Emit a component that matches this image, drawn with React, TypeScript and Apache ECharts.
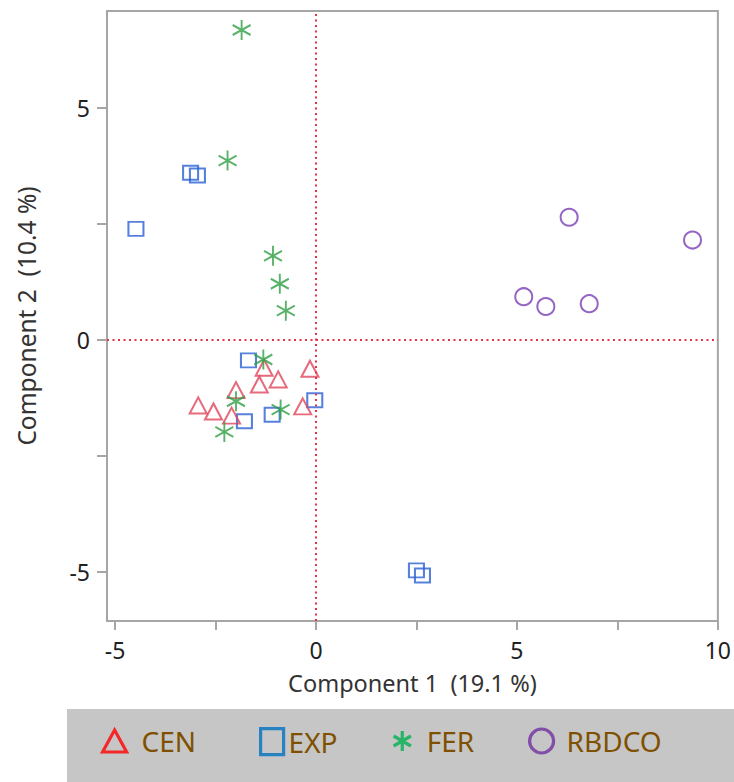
import React, { useEffect, useRef } from "react";
import * as echarts from "echarts";

const seriesNames = ["CEN", "EXP", "FER", "RBDCO"];

const cenPoints = [
  [-1.29, -0.6], [-0.15, -0.62], [-0.94, -0.85], [-1.41, -0.96], [-1.99, -1.08],
  [-2.93, -1.41], [-2.55, -1.54], [-2.1, -1.63], [-0.33, -1.43],
];
const expPoints = [
  [-3.12, 3.6], [-2.95, 3.54], [-4.48, 2.39], [-1.68, -0.44], [-1.78, -1.75],
  [-1.09, -1.61], [-0.03, -1.3], [2.5, -4.96], [2.65, -5.07],
];
const ferPoints = [
  [-1.85, 6.67], [-2.2, 3.86], [-1.07, 1.81], [-0.9, 1.21], [-0.75, 0.63],
  [-1.31, -0.42], [-1.99, -1.32], [-0.88, -1.5], [-2.28, -1.98],
];
const rbdcoPoints = [
  [6.3, 2.64], [9.37, 2.15], [5.17, 0.93], [5.72, 0.72], [6.8, 0.78],
];

const xTickValues = [-5, -2.5, 0, 2.5, 5, 7.5, 10];
const xLabelValues = [-5, 0, 5, 10];
const yTickValues = [-5, -2.5, 0, 2.5, 5];
const yLabelValues = [-5, 0, 5];

const xTitle = "Component 1  (19.1 %)";
const yTitle = "Component 2  (10.4 %)";

const ASTERISK = "path://M10,0L10,20M1.34,5L18.66,15M1.34,15L18.66,5";
const ELLIPSE = "path://M10,0A10,10,0,1,1,10,20A10,10,0,1,1,10,0Z";

const FONT = "'Noto Sans', 'Open Sans', sans-serif";
const LEGEND_TEXT = "#7f5000";
const AXIS_GREY = "#a6a6a6";

export default function App() {
  const ref = useRef<HTMLDivElement>(null);

  useEffect(() => {
    if (!ref.current) return;
    const chart = echarts.init(ref.current, undefined, { renderer: "svg" });

    const hollow = (c: string, w = 2) => ({
      color: "rgba(0,0,0,0)",
      borderColor: c,
      borderWidth: w,
    });

    const legendItem = (
      name: string,
      left: number,
      w: number,
      h: number,
      icon: string,
      color: string,
      padLeft: number
    ) => ({
      show: true,
      left,
      top: 727,
      padding: 0,
      itemWidth: w,
      itemHeight: h,
      selectedMode: false,
      textStyle: {
        fontSize: 28,
        fontFamily: FONT,
        color: LEGEND_TEXT,
        padding: [0, 0, 0, padLeft],
      },
      data: [{ name, icon, itemStyle: hollow(color, 3.2) }],
    });

    chart.setOption({
      animation: false,
      backgroundColor: "#ffffff",
      grid: {
        left: 107,
        top: 11,
        width: 612,
        height: 610,
        show: true,
        borderColor: AXIS_GREY,
        borderWidth: 2,
        backgroundColor: "transparent",
      },
      graphic: [
        {
          type: "rect",
          z: -10,
          shape: { x: 67, y: 709, width: 667, height: 73 },
          style: { fill: "#c6c6c6" },
        },
      ],
      legend: [
        legendItem("CEN", 101, 24, 22, "triangle", "#ff0000", 10),
        legendItem("EXP", 259, 23, 26, "rect", "#0070c0", 0),
        legendItem("FER", 392, 21, 20, ASTERISK, "#00b050", 9),
        legendItem("RBDCO", 528, 24, 26, ELLIPSE, "#7030a0", 8),
      ],
      xAxis: {
        type: "value",
        min: -5.2,
        max: 10,
        name: xTitle,
        nameLocation: "middle",
        nameGap: 50,
        nameTextStyle: { fontSize: 23.5, fontFamily: FONT, color: "#333" },
        axisLine: { show: true, onZero: false, lineStyle: { color: AXIS_GREY, width: 2 } },
        axisTick: {
          show: true,
          length: 9,
          customValues: xTickValues,
          lineStyle: { color: AXIS_GREY, width: 2 },
        },
        axisLabel: {
          customValues: xLabelValues,
          margin: 17,
          fontSize: 23,
          fontFamily: FONT,
          color: "#222",
          showMinLabel: true,
          showMaxLabel: true,
        },
        splitLine: { show: false },
      },
      yAxis: {
        type: "value",
        min: -6.05,
        max: 7.08,
        name: yTitle,
        nameLocation: "middle",
        nameGap: 68,
        nameTextStyle: { fontSize: 24.5, fontFamily: FONT, color: "#333" },
        axisLine: { show: true, onZero: false, lineStyle: { color: AXIS_GREY, width: 2 } },
        axisTick: {
          show: true,
          length: 10,
          customValues: yTickValues,
          lineStyle: { color: AXIS_GREY, width: 2 },
        },
        axisLabel: {
          customValues: yLabelValues,
          margin: 17,
          fontSize: 23,
          fontFamily: FONT,
          color: "#222",
        },
        splitLine: { show: false },
      },
      series: [
        {
          name: seriesNames[0],
          type: "scatter",
          symbol: "triangle",
          symbolSize: [17, 16],
          itemStyle: hollow("#e0455a"),
          data: cenPoints,
          markLine: {
            silent: true,
            symbol: "none",
            label: { show: false },
            lineStyle: { color: "#e3334a", type: [2, 3.5], width: 2 },
            data: [{ xAxis: 0 }, { yAxis: 0 }],
          },
          z: 3,
        },
        {
          name: seriesNames[1],
          type: "scatter",
          symbol: "rect",
          symbolSize: [15, 14],
          itemStyle: hollow("#2a62d4"),
          data: expPoints,
          z: 2,
        },
        {
          name: seriesNames[2],
          type: "scatter",
          symbol: ASTERISK,
          symbolSize: [18, 20],
          itemStyle: hollow("#2ea043"),
          data: ferPoints,
          z: 4,
        },
        {
          name: seriesNames[3],
          type: "scatter",
          symbol: "circle",
          symbolSize: 17,
          itemStyle: hollow("#7b3fb5"),
          data: rbdcoPoints,
          z: 2,
        },
      ],
    });

    return () => chart.dispose();
  }, []);

  return (
    <div
      ref={ref}
      style={{ position: "fixed", left: 0, top: 0, width: 734, height: 782 }}
    />
  );
}
